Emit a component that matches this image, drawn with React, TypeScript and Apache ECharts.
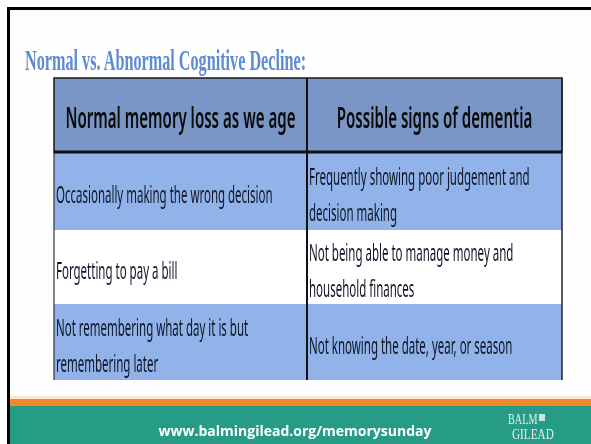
import React, { useEffect, useRef } from "react";
import * as echarts from "echarts";

const title = "Normal vs. Abnormal Cognitive Decline:";
const headers = ["Normal memory loss as we age", "Possible signs of dementia"];
const normalSigns = [
  "Occasionally making the wrong decision",
  "Forgetting to pay a bill",
  "Not remembering what day it is but\nremembering later",
];
const dementiaSigns = [
  "Frequently showing poor judgement and\ndecision making",
  "Not being able to manage money and\nhousehold finances",
  "Not knowing the date, year, or season",
];
const footerUrl = "www.balmingilead.org/memorysunday";
const logoLines = ["BALM", "GILEAD"];

export default function App() {
  const ref = useRef<HTMLDivElement>(null);
  useEffect(() => {
    if (!ref.current) return;
    const chart = echarts.init(ref.current, undefined, { renderer: "svg" });
    const tX = 54, tR = 562, cX = 307;
    const hTop = 78, hBot = 152;
    const rows = [152, 230, 304, 380];
    const rowFills = ["#92b3ea", "#ffffff", "#92b3ea"];
    const sans = "'Noto Sans', sans-serif";
    const els: any[] = [];
    // page frame
    els.push({ type: "rect", shape: { x: 0, y: 0, width: 591, height: 444 }, style: { fill: "#ffffff" } });
    els.push({ type: "rect", shape: { x: 7, y: 7, width: 584, height: 437 }, style: { fill: "#000000" } });
    els.push({ type: "rect", shape: { x: 10, y: 10, width: 581, height: 434 }, style: { fill: "#fefefe" } });
    // title
    els.push({
      type: "text", x: 25, y: 60, scaleX: 0.54,
      style: { text: title, fill: "#5f8bd2", fontFamily: "'Liberation Serif', serif", fontWeight: "bold", fontSize: 30, align: "left", verticalAlign: "middle" },
    });
    // header
    els.push({ type: "rect", shape: { x: tX, y: hTop, width: tR - tX, height: hBot - hTop }, style: { fill: "#7a96c7", stroke: "#1a1a1a", lineWidth: 1.5 } });
    // body rows
    for (let i = 0; i < 3; i++) {
      els.push({ type: "rect", shape: { x: tX, y: rows[i], width: tR - tX, height: rows[i + 1] - rows[i] }, style: { fill: rowFills[i] } });
    }
    els.push({ type: "line", shape: { x1: tX, y1: hBot, x2: tX, y2: rows[3] }, style: { stroke: "#333", lineWidth: 1.2 } });
    els.push({ type: "line", shape: { x1: tR, y1: hTop, x2: tR, y2: rows[3] }, style: { stroke: "#222", lineWidth: 1.5 } });
    els.push({ type: "line", shape: { x1: cX, y1: hTop, x2: cX, y2: rows[3] }, style: { stroke: "#111", lineWidth: 2 } });
    els.push({ type: "line", shape: { x1: tX, y1: hBot, x2: tR, y2: hBot }, style: { stroke: "#111", lineWidth: 3 } });
    // header text
    [0, 1].forEach((c) => {
      const cx = c === 0 ? (tX + cX) / 2 : (cX + tR) / 2;
      els.push({
        type: "text", x: cx, y: 117, scaleX: 0.52,
        style: { text: headers[c], fill: "#0a0a0a", fontFamily: sans, fontWeight: 600, fontSize: 29, align: "center", verticalAlign: "middle" },
      });
    });
    // body text
    for (let i = 0; i < 3; i++) {
      const cy = (rows[i] + rows[i + 1]) / 2 + 3;
      els.push({
        type: "text", x: 56, y: cy, scaleX: 0.5,
        style: { text: normalSigns[i], fill: "#0e1626", fontFamily: sans, fontSize: 23, lineHeight: 36, align: "left", verticalAlign: "middle" },
      });
      els.push({
        type: "text", x: 309, y: cy, scaleX: 0.5,
        style: { text: dementiaSigns[i], fill: "#0e1626", fontFamily: sans, fontSize: 23, lineHeight: 36, align: "left", verticalAlign: "middle" },
      });
    }
    // footer
    els.push({ type: "rect", shape: { x: 10, y: 396, width: 581, height: 3 }, style: { fill: "#fbe6cf" } });
    els.push({ type: "rect", shape: { x: 10, y: 399, width: 581, height: 7 }, style: { fill: "#f08a2a" } });
    els.push({ type: "rect", shape: { x: 10, y: 406, width: 581, height: 38 }, style: { fill: "#269b86" } });
    els.push({
      type: "text", x: 295, y: 430,
      style: { text: footerUrl, fill: "#ffffff", fontFamily: "'Open Sans', 'Noto Sans', sans-serif", fontWeight: "bold", fontSize: 14, align: "center", verticalAlign: "middle" },
    });
    els.push({
      type: "text", x: 508, y: 419, scaleX: 0.68,
      style: { text: logoLines[0], fill: "#e6efe9", fontFamily: "'Liberation Serif', serif", fontSize: 15, align: "left", verticalAlign: "middle" },
    });
    els.push({ type: "rect", shape: { x: 539, y: 414, width: 6, height: 7 }, style: { fill: "#cfe3da" } });
    els.push({
      type: "text", x: 512, y: 434, scaleX: 0.75,
      style: { text: logoLines[1], fill: "#e6efe9", fontFamily: "'Liberation Serif', serif", fontSize: 15, align: "left", verticalAlign: "middle" },
    });
    chart.setOption({ animation: false, graphic: { elements: els } });
    return () => chart.dispose();
  }, []);
  return <div ref={ref} style={{ position: "fixed", left: 0, top: 0, width: 591, height: 444 }} />;
}
